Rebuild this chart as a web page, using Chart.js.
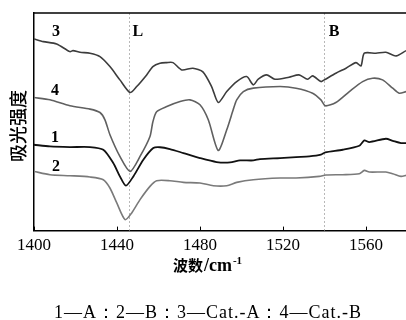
<!DOCTYPE html>
<html>
<head>
<meta charset="utf-8">
<script src="https://cdn.jsdelivr.net/npm/chart.js@4.4.1/dist/chart.umd.min.js"></script>
<style>
  html, body { margin: 0; padding: 0; background: #fff; }
  #irChart { display: block; }
</style>
</head>
<body>
<canvas id="irChart" width="406" height="320"></canvas>
<script>
// wavenumber (cm-1) and absorbance (arbitrary units) for each curve
const wn1 = [1400, 1407.7, 1417.3, 1427, 1433.4, 1438.2, 1441.4, 1444.3, 1447.9, 1452.7, 1457.5, 1460.7, 1465.5, 1472, 1480, 1488, 1494.5, 1499.3, 1505.7, 1508.9, 1518.6, 1526.3, 1532.7, 1538.3, 1540.4, 1548.8, 1556.8, 1559.2, 1561.6, 1569.6, 1572.9, 1576.9, 1579.3];
const abs1 = [86, 84.3, 83.7, 83.7, 81, 67.7, 54.3, 45, 54.3, 71, 82.7, 83.5, 81.7, 77.7, 72.7, 68.7, 68.3, 70.3, 70.3, 71.7, 72.7, 73.7, 74.3, 76, 78.3, 81, 85, 90.3, 88.7, 92, 90, 87.7, 87.7];

const wn2 = [1400, 1407.7, 1417.3, 1427, 1433.4, 1436.6, 1439.9, 1443.9, 1447.1, 1451.1, 1455.9, 1459.1, 1465.5, 1472, 1480, 1486.4, 1492.9, 1497.7, 1505.7, 1518.6, 1526.3, 1537.5, 1540.7, 1548.8, 1556.8, 1559.2, 1561.6, 1569.6, 1572.9, 1576.9, 1579.3];
const abs2 = [59.3, 56, 55, 53.7, 51, 42.7, 27.7, 11, 17.7, 31, 44.3, 50, 50, 48.3, 47.7, 45, 45, 48.3, 51, 52.7, 52.7, 54.3, 55.7, 56, 57, 60.3, 58.7, 58.7, 57, 54.3, 55.3];

const wn3 = [1400, 1404.5, 1410.9, 1417.3, 1418.8, 1422.2, 1427, 1431.8, 1436.6, 1441.4, 1446.3, 1449.5, 1454.3, 1457.3, 1460.7, 1463.9, 1467, 1471.2, 1476.6, 1481.4, 1485.6, 1488.8, 1492.9, 1497.7, 1502.5, 1505.7, 1508.1, 1512.1, 1516.1, 1522.9, 1527.7, 1531.9, 1534.3, 1538.3, 1539.9, 1545.5, 1550.4, 1555.2, 1557.6, 1559.2, 1564.8, 1569.6, 1574.5, 1579.3];
const abs3 = [192, 189.3, 187, 179.3, 180.3, 178.7, 177.7, 174.3, 164.3, 151, 138.3, 144.3, 156, 164.3, 167.7, 168.3, 168.3, 161, 162.7, 159, 144.3, 128.3, 139.3, 149.3, 154.3, 146, 151.7, 156, 151.7, 153.7, 156, 151.7, 155, 149.3, 151, 157.7, 162.7, 168.3, 165, 177.7, 177.7, 178.7, 175, 180.3];

const wn4 = [1400, 1407.7, 1417.3, 1427, 1431.8, 1434.2, 1436.6, 1441.4, 1446.3, 1451.1, 1455.9, 1457.3, 1459.1, 1464, 1470.4, 1475.2, 1480, 1484, 1488.8, 1492.9, 1496, 1497.7, 1500.9, 1505.7, 1518.6, 1526.3, 1534.3, 1538.3, 1540.4, 1545.5, 1552, 1558.4, 1563.2, 1568, 1572.9, 1576, 1579.3];
const abs4 = [133.3, 131, 125, 121.7, 118.3, 111, 96, 74.3, 59.3, 74.3, 94.3, 109, 119, 124.3, 129.3, 131, 126, 111, 80.3, 101, 121, 131, 139.3, 142.7, 144.3, 142.7, 137.7, 131, 125, 128.3, 139.3, 149.3, 152.7, 151, 142.7, 137.7, 139.3];

const curveNames = ['1', '2', '3', '4'];
const curveColors = ['#111111', '#7a7a7a', '#3c3c3c', '#606060'];
// where each curve number sits (wavenumber, absorbance)
const curveLabelWn = [1410.1, 1410.6, 1410.6, 1410.1];
const curveLabelAbs = [93, 64, 199, 140];

const xTicks = [1400, 1440, 1480, 1520, 1560];
const markerWn = [1446, 1540];
const markerLabels = ['L', 'B'];
const markerLabelWn = [1450.1, 1544.6];
const markerLabelAbs = 199;

const yTitle = '吸光强度';
const caption = '1—A：2—B：3—Cat.-A：4—Cat.-B';

const serif = '"Liberation Serif", "DejaVu Serif", serif';
const cjk = '"Noto Sans CJK SC", sans-serif';

const pairs = (xs, ys) => xs.map((x, i) => ({ x: x, y: ys[i] }));
const allWn = [wn1, wn2, wn3, wn4];
const allAbs = [abs1, abs2, abs3, abs4];

const datasets = allWn.map((xs, i) => ({
    label: curveNames[i],
    data: pairs(xs, allAbs[i]),
    borderColor: curveColors[i],
    borderWidth: i === 0 ? 1.8 : 1.6,
    pointRadius: 0,
    tension: 0.25,
    fill: false
}));

const decorations = {
    id: 'decorations',
    beforeDatasetsDraw(chart) {
        const { ctx, chartArea, scales } = chart;
        const x = scales.x;
        // dashed marker lines
        ctx.save();
        ctx.strokeStyle = '#b8b8b8';
        ctx.lineWidth = 1;
        ctx.setLineDash([2, 2]);
        markerWn.forEach(w => {
            const px = Math.round(x.getPixelForValue(w)) + 0.5;
            ctx.beginPath();
            ctx.moveTo(px, chartArea.top);
            ctx.lineTo(px, chartArea.bottom);
            ctx.stroke();
        });
        ctx.restore();
    },
    afterDraw(chart) {
        const { ctx, chartArea, scales } = chart;
        const x = scales.x, y = scales.y;
        ctx.save();
        // top frame line
        ctx.strokeStyle = '#000';
        ctx.lineWidth = 1.5;
        ctx.beginPath();
        ctx.moveTo(chartArea.left, chartArea.top);
        ctx.lineTo(chartArea.right, chartArea.top);
        ctx.stroke();
        // inward ticks
        ctx.lineWidth = 1;
        xTicks.forEach(v => {
            const px = Math.round(x.getPixelForValue(v)) + 0.5;
            ctx.beginPath();
            ctx.moveTo(px, chartArea.bottom);
            ctx.lineTo(px, chartArea.bottom - 4);
            ctx.stroke();
        });

        ctx.fillStyle = '#000';
        ctx.textAlign = 'center';
        ctx.textBaseline = 'middle';
        ctx.font = 'bold 16px ' + serif;
        curveNames.forEach((n, i) => {
            ctx.fillText(n, x.getPixelForValue(curveLabelWn[i]), y.getPixelForValue(curveLabelAbs[i]));
        });
        markerLabels.forEach((m, i) => {
            ctx.fillText(m, x.getPixelForValue(markerLabelWn[i]), y.getPixelForValue(markerLabelAbs));
        });

        // x axis title: 波数/cm^-1
        ctx.textAlign = 'left';
        ctx.textBaseline = 'alphabetic';
        ctx.font = 'bold 15px ' + cjk;
        const w1 = ctx.measureText('波数').width;
        ctx.font = 'bold 18px ' + serif;
        const w2 = ctx.measureText('/cm').width + 1;
        ctx.font = 'bold 11px ' + serif;
        const w3 = ctx.measureText('-1').width;
        let tx = 207 - (w1 + w2 + w3) / 2;
        const ty = 271;
        ctx.font = 'bold 15px ' + cjk;
        ctx.fillText('波数', tx, ty);
        tx += w1 + 1;
        ctx.font = 'bold 18px ' + serif;
        ctx.fillText('/cm', tx, ty);
        tx += w2;
        ctx.font = 'bold 11px ' + serif;
        ctx.fillText('-1', tx, ty - 7);

        // y axis title
        ctx.save();
        ctx.translate(18, 126);
        ctx.rotate(-Math.PI / 2);
        ctx.textAlign = 'center';
        ctx.textBaseline = 'middle';
        ctx.font = '500 18px ' + cjk;
        ctx.fillText(yTitle, 0, 0);
        ctx.restore();

        // caption
        ctx.textAlign = 'center';
        ctx.textBaseline = 'middle';
        ctx.font = '18px ' + serif;
        ctx.letterSpacing = '1px';
        ctx.fillText(caption, 208, 313);
        ctx.restore();
    }
};

new Chart(document.getElementById('irChart'), {
    type: 'line',
    data: { datasets: datasets },
    plugins: [decorations],
    options: {
        responsive: false,
        animation: false,
        layout: { padding: { left: 34, top: 13, right: 0, bottom: 59 } },
        plugins: {
            legend: { display: false },
            tooltip: { enabled: false }
        },
        scales: {
            x: {
                type: 'linear',
                min: 1400,
                max: 1579.3,
                afterBuildTicks: scale => { scale.ticks = xTicks.map(v => ({ value: v })); },
                grid: { display: false, drawTicks: false },
                border: { display: true, color: '#000', width: 1.5 },
                ticks: {
                    color: '#000',
                    padding: 5,
                    maxRotation: 0,
                    autoSkip: false,
                    font: { family: serif, size: 17 },
                    callback: v => String(v)
                }
            },
            y: {
                min: 0,
                max: 218,
                grid: { display: false, drawTicks: false },
                border: { display: true, color: '#000', width: 1.5 },
                ticks: { display: false }
            }
        }
    }
});
</script>
</body>
</html>
